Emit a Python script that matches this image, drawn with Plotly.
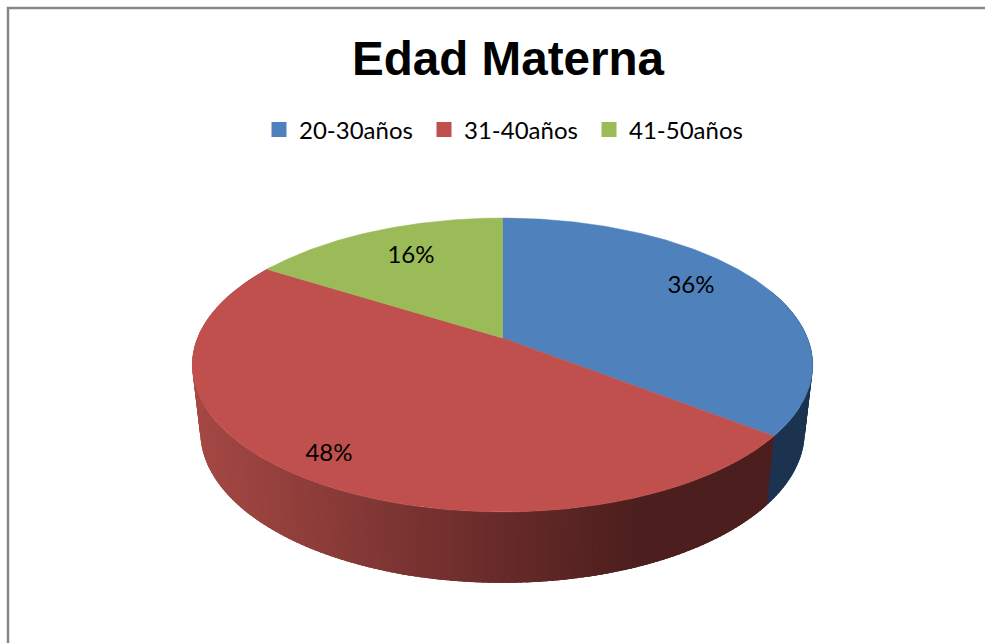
import numpy as np
import plotly.graph_objects as go

categories = ["20-30años", "31-40años", "41-50años"]
values = [35.5, 48.4, 16.1]
top_colors = ["#4F81BD", "#C0504D", "#9BBB59"]
title_text = "Edad Materna"

# percent-label anchor points on the canvas
label_x = [691, 329, 411]
label_y = [287, 455, 257]

# pie projection (perspective view of a disc)
CX, Y0, A, B, K = 502.5, 338.0, 305.0, 142.0, 0.1837
BOT_S, BOT_Y0, BOT_B = 0.974, 404.0, 146.0


def project(theta_deg, bottom=False):
    t = np.radians(theta_deg)
    u, v = np.sin(t), np.cos(t)
    w = 1 + K * v
    if bottom:
        return CX + BOT_S * A * u / w, BOT_Y0 - BOT_B * v / w
    return CX + A * u / w, Y0 - B * v / w


def wall_color(x, base):
    f = np.clip((x - 200) / 440, 0, 1)
    return "rgb(%d,%d,%d)" % tuple(int(round(a + (b - a) * f)) for a, b in zip(*base))


fig = go.Figure()

edges = np.concatenate([[0], np.cumsum(values)]) * 3.6
red_wall = ((165, 72, 68), (76, 30, 29))
blue_wall = ((28, 51, 80), (28, 51, 80))

# side wall: overlapping quads painted in order, so the shading varies across the width
for i, base, lo, hi in [(0, blue_wall, 70, edges[1]), (1, red_wall, edges[1], edges[2])]:
    ths = np.append(np.arange(lo, hi, 1.0), hi)
    for a, b in zip(ths[:-1], ths[1:]):
        arc = np.linspace(a, min(b + 1.5, hi + 1.5), 4)
        xt, yt = project(arc)
        xb, yb = project(arc[::-1], bottom=True)
        col = wall_color((project(a)[0] + project(a, True)[0]) / 2, base)
        fig.add_trace(go.Scatter(
            x=np.concatenate([xt, xb, xt[:1]]), y=np.concatenate([yt, yb, yt[:1]]),
            mode="lines", fill="toself", fillcolor=col,
            line=dict(width=0), showlegend=False, hoverinfo="skip"))

# top face
for i, name in enumerate(categories):
    ths = np.linspace(edges[i], edges[i + 1], 200)
    xs, ys = project(ths)
    fig.add_trace(go.Scatter(
        x=np.concatenate([[CX], xs, [CX]]), y=np.concatenate([[Y0], ys, [Y0]]),
        mode="lines", fill="toself", fillcolor=top_colors[i],
        line=dict(color=top_colors[i], width=0.5),
        name=name, showlegend=False, hoverinfo="name"))

# legend entries
for name, col in zip(categories, top_colors):
    fig.add_trace(go.Scatter(
        x=[None], y=[None], mode="markers", name=name,
        marker=dict(symbol="square", size=15, color=col)))

# percent labels
fig.add_trace(go.Scatter(
    x=label_x, y=label_y, mode="text",
    text=[f"{v:.0f}%" for v in values],
    textposition="middle center",
    textfont=dict(family="Lato", size=24, color="#000000"),
    showlegend=False, hoverinfo="skip"))

fig.update_layout(
    width=985, height=643,
    margin=dict(l=0, r=0, t=0, b=0),
    paper_bgcolor="#FFFFFF", plot_bgcolor="#FFFFFF",
    title=dict(text=f"<b>{title_text}</b>", x=508 / 985, xanchor="center",
               y=1 - 58 / 643, yanchor="middle",
               font=dict(family="Liberation Sans", size=47.6, color="#000000")),
    xaxis=dict(range=[0, 985], visible=False, fixedrange=True),
    yaxis=dict(range=[643, 0], visible=False, fixedrange=True),
    legend=dict(orientation="h", x=259 / 985, y=1 - 130 / 643, xanchor="left", yanchor="middle",
                font=dict(family="Lato", size=24, color="#000000"),
                entrywidth=120, entrywidthmode="pixels", itemclick=False, itemdoubleclick=False,
                bgcolor="rgba(0,0,0,0)"),
    shapes=[dict(type="rect", xref="x", yref="y", x0=8, y0=8, x1=1100, y1=800,
                 line=dict(color="#868686", width=2.5), layer="below")],
)

fig.write_html("out.html", config=dict(displayModeBar=False),
               post_script="document.body.style.margin='0';document.documentElement.style.overflow='hidden';")
